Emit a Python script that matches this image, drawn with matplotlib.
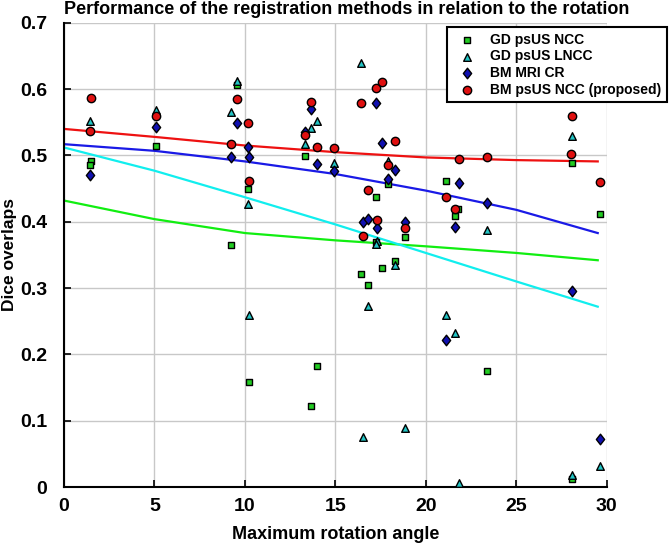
import numpy as np
import matplotlib
matplotlib.use("Agg")
import matplotlib.pyplot as plt
from matplotlib.path import Path

plt.rcParams['font.family'] = ['Liberation Sans', 'DejaVu Sans']
plt.rcParams['font.weight'] = 'bold'

# GD psUS NCC
gd_ncc_x = [1.5, 1.45, 5.08, 9.57, 9.23, 10.18, 10.25, 13.3, 13.96, 13.65, 16.41, 16.82,
            17.24, 17.24, 17.55, 17.92, 18.32, 18.82, 21.1, 21.75, 21.6, 23.39, 28.1, 28.05, 29.65]
gd_ncc_y = [0.492, 0.485, 0.515, 0.606, 0.365, 0.450, 0.158, 0.499, 0.183, 0.122, 0.321, 0.304,
            0.438, 0.369, 0.330, 0.457, 0.341, 0.377, 0.461, 0.420, 0.409, 0.175, 0.488, 0.012, 0.411]

# GD psUS LNCC
gd_lncc_x = [1.45, 5.08, 9.57, 9.23, 10.18, 10.25, 13.96, 13.65, 13.3, 14.94, 16.41, 16.54, 16.82,
             17.3, 17.24, 17.92, 18.32, 18.82, 21.1, 21.6, 21.82, 23.39, 28.1, 28.05, 29.65]
gd_lncc_y = [0.552, 0.569, 0.613, 0.565, 0.427, 0.260, 0.552, 0.541, 0.517, 0.489, 0.639, 0.075, 0.273,
             0.371, 0.367, 0.492, 0.335, 0.0885, 0.259, 0.232, 0.006, 0.387, 0.529, 0.018, 0.032]

# BM MRI CR
bm_mri_x = [1.45, 5.08, 9.57, 9.23, 10.18, 10.25, 13.65, 13.3, 13.96, 14.94, 16.54, 16.82,
            17.24, 17.3, 17.55, 17.92, 18.32, 18.82, 21.1, 21.6, 21.82, 23.39, 28.05, 29.65]
bm_mri_y = [0.471, 0.543, 0.549, 0.498, 0.513, 0.498, 0.570, 0.536, 0.487, 0.476, 0.400, 0.404,
            0.579, 0.390, 0.519, 0.465, 0.478, 0.399, 0.221, 0.392, 0.458, 0.429, 0.296, 0.072]

# BM psUS NCC (proposed)
bm_ncc_x = [1.5, 1.45, 5.08, 9.57, 9.23, 10.18, 10.25, 13.65, 13.3, 13.96, 14.94, 16.41, 16.54, 16.82,
            17.24, 17.3, 17.55, 17.92, 18.32, 18.82, 21.1, 21.6, 21.82, 23.39, 28.1, 28.0, 29.65]
bm_ncc_y = [0.586, 0.537, 0.559, 0.585, 0.518, 0.549, 0.462, 0.580, 0.531, 0.513, 0.511, 0.579, 0.379, 0.448,
            0.601, 0.403, 0.610, 0.486, 0.522, 0.390, 0.438, 0.419, 0.494, 0.498, 0.560, 0.502, 0.460]

# fitted trend curves
fit_x = [0, 5, 10, 15, 20, 25, 29.5]
fit_gd_ncc = [0.432, 0.404, 0.383, 0.372, 0.363, 0.353, 0.342]
fit_gd_lncc = [0.512, 0.477, 0.437, 0.396, 0.353, 0.310, 0.272]
fit_bm_mri = [0.517, 0.507, 0.491, 0.472, 0.447, 0.418, 0.383]
fit_bm_ncc = [0.540, 0.528, 0.515, 0.505, 0.497, 0.493, 0.491]

labels = ["GD psUS NCC", "GD psUS LNCC", "BM MRI CR", "BM psUS NCC (proposed)"]

# a slightly narrow diamond, like the matlab one
diamond = Path([(0, 1), (0.78, 0), (0, -1), (-0.78, 0), (0, 1)],
               [Path.MOVETO, Path.LINETO, Path.LINETO, Path.LINETO, Path.CLOSEPOLY])

fig = plt.figure(figsize=(6.69, 5.43), dpi=100)
ax = fig.add_axes([0.0957, 0.103, 0.8113, 0.855])

# trend lines
ax.plot(fit_x, fit_gd_ncc, color="#11ee11", lw=1.6, zorder=2)
ax.plot(fit_x, fit_gd_lncc, color="#11eeee", lw=1.6, zorder=2)
ax.plot(fit_x, fit_bm_mri, color="#1a1ae6", lw=1.6, zorder=2)
ax.plot(fit_x, fit_bm_ncc, color="#ee1111", lw=1.6, zorder=2)

# data points
ax.scatter(gd_ncc_x, gd_ncc_y, marker="s", s=20, c="#22cc22", edgecolors="black",
           linewidths=1.0, label=labels[0], zorder=3)
ax.scatter(gd_lncc_x, gd_lncc_y, marker="^", s=30, c="#22c4c4", edgecolors="black",
           linewidths=1.0, label=labels[1], zorder=3)
ax.scatter(bm_mri_x, bm_mri_y, marker=diamond, s=58, c="#1010b0", edgecolors="black",
           linewidths=1.0, label=labels[2], zorder=3)
ax.scatter(bm_ncc_x, bm_ncc_y, marker="o", s=36, c="#e01010", edgecolors="black",
           linewidths=1.0, label=labels[3], zorder=3)

ax.set_xlim(0, 30)
ax.set_ylim(0, 0.7)
ax.set_xticks(np.arange(0, 31, 5))
ax.set_yticks(np.arange(0, 0.71, 0.1))
ax.set_xticklabels(["0", "5", "10", "15", "20", "25", "30"])
ax.set_yticklabels(["0", "0.1", "0.2", "0.3", "0.4", "0.5", "0.6", "0.7"])
ax.tick_params(direction="in", length=5, width=1.2, labelsize=14)
ax.tick_params(axis="x", pad=8)
ax.tick_params(axis="y", pad=12)
ax.grid(True, color="#c8c8c8", lw=1.0)
ax.set_axisbelow(True)
for side in ["top", "right"]:
    ax.spines[side].set_visible(False)
for side in ["left", "bottom"]:
    ax.spines[side].set_linewidth(1.5)

ax.set_title("Performance of the registration methods in relation to the rotation",
             fontsize=13, fontweight="bold", pad=6, x=0.52)
ax.set_xlabel("Maximum rotation angle", fontsize=13, fontweight="bold", labelpad=8)
ax.set_ylabel("Dice overlaps", fontsize=12.5, fontweight="bold", labelpad=2)

leg = ax.legend(loc="upper right", bbox_to_anchor=(667 / 669, 1 - 27 / 543),
                bbox_transform=fig.transFigure, fontsize=10, frameon=True,
                fancybox=False, framealpha=1, edgecolor="black", borderaxespad=0,
                handletextpad=0.7, labelspacing=0.2, borderpad=0.4)
leg.get_frame().set_linewidth(1.5)

fig.savefig("out.png", dpi=100)
